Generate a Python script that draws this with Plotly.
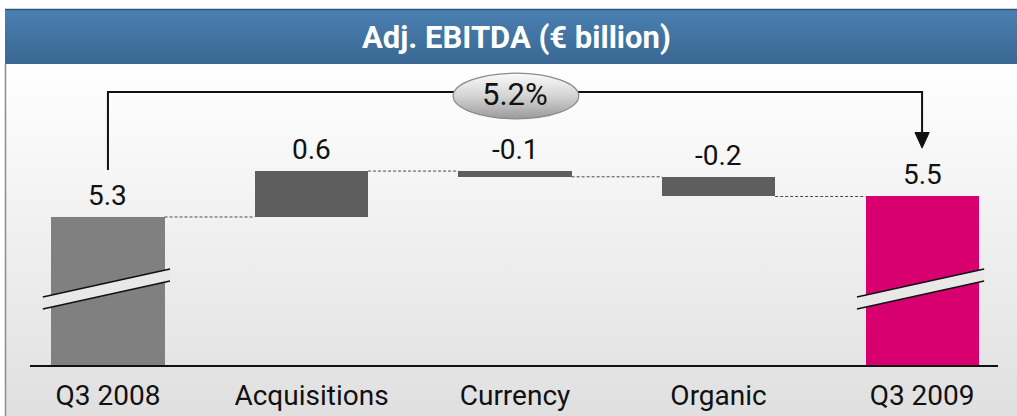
import base64
import plotly.graph_objects as go

# values (unrounded estimates, labels show one decimal)
categories = ["Q3 2008", "Acquisitions", "Currency", "Organic", "Q3 2009"]
start_value = 5.27
changes = [0.56, -0.07, -0.24]
end_value = 5.52
growth_label = "5.2%"
title_text = "Adj. EBITDA (€ billion)"

W, H = 1017, 416
L, R, T, B = 30, 19, 66, 51
PW, PH = W - L - R, H - T - B
Y0, Y1 = 3.465, 3.465 + PH / 82.0
X0, X1 = -0.383, 4.373
FONT = "Roboto, Arial, sans-serif"


def svg_uri(svg):
    return "data:image/svg+xml;base64," + base64.b64encode(svg.encode()).decode()


# running levels of the waterfall
levels = [start_value]
for c in changes:
    levels.append(levels[-1] + c)

bases = [0] + [min(levels[i], levels[i + 1]) for i in range(3)] + [0]
heights = [start_value] + [abs(c) for c in changes] + [end_value]
tops = [start_value] + [max(levels[i], levels[i + 1]) for i in range(3)] + [end_value]
labels = [f"{start_value:.1f}"] + [f"{c:.1f}" for c in changes] + [f"{end_value:.1f}"]
colors = ["#808080", "#5e5e5e", "#5e5e5e", "#5e5e5e", "#d7006e"]
xs = list(range(len(categories)))
half = 0.278

fig = go.Figure()

fig.add_trace(go.Bar(
    x=xs, y=heights, base=bases, width=2 * half,
    marker=dict(color=colors, line=dict(width=0)),
    hoverinfo="skip", showlegend=False
))

# dashed connectors between bars
for i in range(4):
    fig.add_trace(go.Scatter(
        x=[i + half, i + 1 - half], y=[levels[i], levels[i]],
        mode="lines", line=dict(color="#4a4a4a", width=1, dash="3px,2px"),
        hoverinfo="skip", showlegend=False
    ))

# value labels
for i, (t, lab) in enumerate(zip(tops, labels)):
    fig.add_annotation(x=i, y=t, text=lab, showarrow=False, xanchor="center",
                       yanchor="bottom", yshift=3,
                       font=dict(family=FONT, size=28, color="#111"))

# axis break marks on the two total bars
for i in (0, 4):
    xa, xb = i - 0.32, i + 0.305
    ya_hi, yb_hi, ya_lo, yb_lo = 4.294, 4.636, 4.148, 4.489
    fig.add_shape(type="path", xref="x", yref="y",
                  path=f"M {xa},{ya_hi} L {xb},{yb_hi} L {xb},{yb_lo} L {xa},{ya_lo} Z",
                  fillcolor="#e8e8e8", line=dict(width=0))
    for ya, yb in ((ya_hi, yb_hi), (ya_lo, yb_lo)):
        fig.add_shape(type="line", xref="x", yref="y", x0=xa, y0=ya, x1=xb, y1=yb,
                      line=dict(color="#111", width=1.6))

# growth bracket (below, so the ellipse badge covers it)
y_top = 6.794
fig.add_shape(type="path", xref="x", yref="y", layer="below",
              path=f"M 0,5.843 L 0,{y_top} L 4,{y_top} L 4,6.28",
              line=dict(color="#111", width=2))
fig.add_shape(type="path", xref="x", yref="y", layer="below",
              path="M 3.965,6.30 L 4.035,6.30 L 4,6.11 Z",
              fillcolor="#111", line=dict(color="#111", width=1))

ellipse_svg = (
    '<svg xmlns="http://www.w3.org/2000/svg" width="128" height="48" viewBox="0 0 128 48">'
    '<defs><linearGradient id="g" x1="0" y1="0" x2="0" y2="1">'
    '<stop offset="0" stop-color="#fbfbfb"/><stop offset="0.5" stop-color="#d4d4d4"/>'
    '<stop offset="1" stop-color="#9a9a9a"/></linearGradient></defs>'
    '<ellipse cx="64" cy="24" rx="62.8" ry="22.8" fill="url(#g)" stroke="#8a8a8a" stroke-width="1.2"/>'
    '</svg>'
)
fig.add_layout_image(source=svg_uri(ellipse_svg), xref="x", yref="y",
                     x=1.69, y=7.038, sizex=0.629, sizey=0.585,
                     xanchor="left", yanchor="top", sizing="stretch", layer="above")
fig.add_annotation(x=2, y=y_top, text=growth_label, showarrow=False,
                   xanchor="center", yanchor="middle", yshift=-2,
                   font=dict(family=FONT, size=31, color="#111"))

# background panel and header band
bg_svg = (
    f'<svg xmlns="http://www.w3.org/2000/svg" width="{W}" height="{H}" viewBox="0 0 {W} {H}">'
    '<defs>'
    '<linearGradient id="p" x1="0" y1="0" x2="0" y2="1">'
    '<stop offset="0" stop-color="#ffffff"/><stop offset="1" stop-color="#dadada"/></linearGradient>'
    '<linearGradient id="h" x1="0" y1="0" x2="0" y2="1">'
    '<stop offset="0" stop-color="#4a80b2"/><stop offset="1" stop-color="#3a6792"/></linearGradient>'
    '</defs>'
    f'<rect x="5" y="64" width="{W}" height="{H}" fill="url(#p)"/>'
    f'<line x1="5.5" y1="64" x2="5.5" y2="{H}" stroke="#8c8c8c" stroke-width="1.5"/>'
    f'<rect x="5" y="9" width="{W}" height="55" fill="url(#h)"/>'
    f'<line x1="5" y1="9.5" x2="{W}" y2="9.5" stroke="#2f5577" stroke-width="1.5"/>'
    '</svg>'
)
fig.add_layout_image(source=svg_uri(bg_svg), xref="paper", yref="paper",
                     x=-L / PW, y=1 + T / PH, sizex=W / PW, sizey=H / PH,
                     xanchor="left", yanchor="top", sizing="stretch", layer="below")

fig.add_annotation(xref="paper", yref="paper", x=(516 - L) / PW, y=1 + (T - 37) / PH,
                   text=f"<b>{title_text}</b>", showarrow=False,
                   xanchor="center", yanchor="middle",
                   font=dict(family=FONT, size=31, color="white"))

fig.update_layout(
    width=W, height=H,
    margin=dict(l=L, r=R, t=T, b=B, autoexpand=False),
    paper_bgcolor="white",
    plot_bgcolor="rgba(0,0,0,0)",
    bargap=0,
    xaxis=dict(range=[X0, X1], tickvals=xs, ticktext=categories, showgrid=False,
               zeroline=False, showline=True, linecolor="#111", linewidth=2,
               ticks="", tickfont=dict(family=FONT, size=28, color="#111"),
               ticklabelstandoff=4, automargin=False, fixedrange=True),
    yaxis=dict(range=[Y0, Y1], visible=False, automargin=False, fixedrange=True),
)

fig.write_html("out.html", config={"displayModeBar": False},
               post_script="document.body.style.margin='0';")
